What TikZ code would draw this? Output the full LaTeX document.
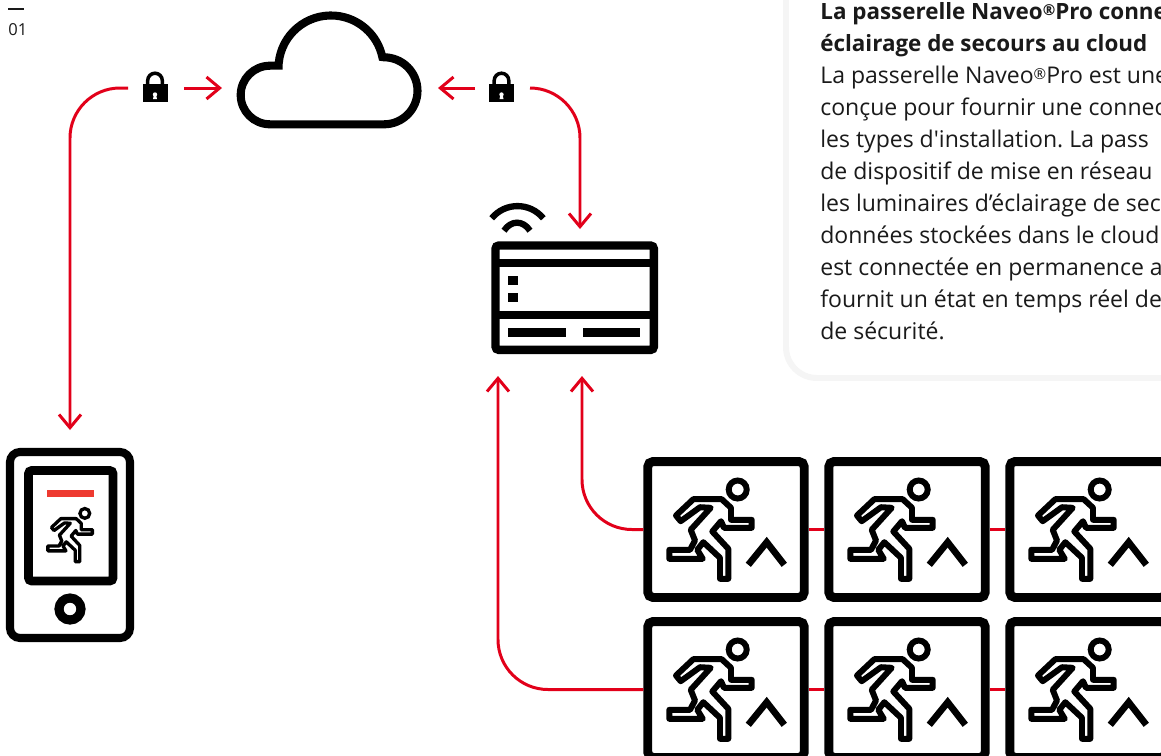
\documentclass[tikz,border=0pt]{standalone}
\usepackage{fontspec}
\setmainfont{Open Sans}
\newfontfamily\panelfont{Open Sans}
\usetikzlibrary{arrows.meta}
\definecolor{linkred}{HTML}{E2001A}
\definecolor{barred}{HTML}{EE3A30}
\definecolor{panelgrey}{HTML}{F5F5F5}
\definecolor{inkblack}{HTML}{1A1A1A}
\newcommand{\regmark}{\raisebox{0.32ex}{\fontsize{8.6pt}{9pt}\selectfont ®}}
\begin{document}
\begin{tikzpicture}[x=0.02cm,y=0.02cm,
	pics/runner/.style={code={
		\draw [black, line join=round] (-32.7,30.3) -- (-4.3,30.3) -- (5,21.7) -- (5,9.7) -- (25.7,9.7) -- (25.7,1.7) -- (-2,1.7) -- (-5,8.3) -- (-13.7,-2) -- (2.3,-19.3) -- (2.3,-49.3) -- (-6,-49.3) -- (-6,-28.3) -- (-22.7,-12.7) -- (-28.7,-20.3) -- (-23.3,-29.3) -- (-56.7,-29.3) -- (-56.7,-20.3) -- (-36,-20.3) -- (-31,-11) -- (-35.3,-0.3) -- (-15.3,21.7) -- (-26,22.3) -- (-45.3,8.3) -- (-50,14) -- cycle;
		\draw [black] (11.7,40) circle (9);
	}},
	pics/exitmark/.style={code={
		\pic [line width=3.4pt] {runner};
		\draw [black, line width=3.8pt] (22.3,-35.3) -- (40.7,-12.7) -- (58.3,-35.3);
	}},
	pics/padlock/.style={code={
		\draw [black, line width=2pt] (-7.3,8) -- (-7.3,12.5) arc (180:0:7.3) -- (7.3,8);
		\fill [black] (-12.5,9) rectangle (12.5,-9);
		\fill [white] (0,-1.5) circle (2.2);
		\fill [white] (-1,-1.5) -- (1,-1.5) -- (2,-6) -- (-2,-6) -- cycle;
	}}]
	\tikzstyle{every node}+=[inner sep=0pt]
	\tikzstyle{exitbox}=[draw=black, fill=white, line width=5.1pt, rounded corners=3pt, minimum width=3.13cm, minimum height=2.72cm]
	\tikzstyle{link}=[draw=linkred, line width=1.7pt]
	\tikzstyle{arrowlink}=[link, -{Straight Barb[length=7.5pt, width=12.5pt, line width=1.7pt]}]
	\tikzstyle{icon}=[draw=black, line width=4.6pt]
	\tikzstyle{bodytext}=[anchor=base west, font=\panelfont\frenchspacing\fontsize{13.1pt}{18pt}\selectfont, text=inkblack]
	\tikzstyle{headtext}=[bodytext, font=\panelfont\frenchspacing\fontsize{12.75pt}{18pt}\selectfont\bfseries]
	\useasboundingbox (0,0) rectangle (1161,-755);
	\clip (0,0) rectangle (1161,-755);
	\fill [white] (0,0) rectangle (1161,-755);

	\draw [inkblack, line width=0.6pt] (8,-9) -- (24,-9);
	\node [anchor=base west, font=\fontsize{9.4pt}{10pt}\selectfont, text=inkblack] (figno) at (8,-35) {01};

	\draw [panelgrey, line width=3.4pt, rounded corners=0.62cm] (1190,-378) -| (786,20);
	\node [headtext] (head1) at (820,-19.5) {La passerelle Naveo\regmark Pro conne};
	\node [headtext] (head2) at (820,-51.5) {éclairage de secours au cloud};
	\node [bodytext] (line1) at (820,-83.5) {La passerelle Naveo\regmark Pro est une};
	\node [bodytext] (line2) at (820,-115.5) {conçue pour fournir une connec};
	\node [bodytext] (line3) at (820,-147.5) {les types d'installation. La pass};
	\node [bodytext] (line4) at (820,-179.5) {de dispositif de mise en réseau};
	\node [bodytext] (line5) at (820,-211.5) {les luminaires d’éclairage de sec};
	\node [bodytext] (line6) at (820,-243.5) {données stockées dans le cloud};
	\node [bodytext] (line7) at (820,-275.5) {est connectée en permanence a};
	\node [bodytext] (line8) at (820,-307.5) {fournit un état en temps réel de};
	\node [bodytext] (line9) at (820,-339.5) {de sécurité.};

	\draw [icon] (270,-124.3) arc (270:90:29.3) -- (278.7,-65.7) -- (278.7,-63.4) arc (175:12:52.5) -- (384,-57.3) arc (90:-90:33.5) -- cycle;

	\pic at (155,-93) {padlock};
	\pic at (501.5,-93) {padlock};

	\draw [black, line width=3.6pt] (491.7,-218.3) .. controls (505,-202) and (530,-202) .. (543.3,-218.3);
	\draw [black, line width=3.6pt] (504,-230.7) .. controls (511,-220) and (523,-220) .. (530,-230.7);
	\node [draw=black, line width=4.8pt, rounded corners=2pt, minimum width=3.17cm, minimum height=2.09cm] (gateway) at (574.7,-297.7) {};
	\draw [icon] (495.5,-263) -- (654,-263);
	\draw [icon] (495.5,-315) -- (654,-315);
	\fill [black] (508,-276) rectangle (518,-285);
	\fill [black] (508,-293) rectangle (518,-302);
	\fill [black] (508,-328) rectangle (566,-337);
	\fill [black] (583,-328) rectangle (640,-337);

	\draw [black, line width=4.6pt, rounded corners=0.2cm] (10,-452) rectangle (130,-638);
	\draw [black, line width=5.1pt, rounded corners=2pt] (28.5,-470.5) rectangle (113,-581);
	\fill [barred] (47,-490) rectangle (94,-497);
	\pic [scale=0.54, line width=1.9pt] at (78.5,-535) {runner};
	\draw [black, line width=5.2pt] (70,-609) circle (11);

	\node [exitbox] (sa1) at (726,-529.5) {};
	\node [exitbox] (sa2) at (907,-529.5) {};
	\node [exitbox] (sa3) at (1088,-529.5) {};
	\node [exitbox] (sb1) at (726,-689.5) {};
	\node [exitbox] (sb2) at (907,-689.5) {};
	\node [exitbox] (sb3) at (1088,-689.5) {};
	\pic at (sa1) {exitmark};
	\pic at (sa2) {exitmark};
	\pic at (sa3) {exitmark};
	\pic at (sb1) {exitmark};
	\pic at (sb2) {exitmark};
	\pic at (sb3) {exitmark};

	\coordinate (lockleftout) at (128,-88);
	\coordinate (phonetop) at (70,-430);
	\coordinate (lockleftin) at (184,-88);
	\coordinate (cloudleft) at (222,-88);
	\coordinate (lockrightin) at (475,-88);
	\coordinate (cloudright) at (438,-88);
	\coordinate (lockrightout) at (530,-88);
	\coordinate (gatewaytop) at (580,-229);
	\coordinate (gatewaybottoma) at (582,-376);
	\coordinate (gatewaybottomb) at (498,-376);
	\draw [arrowlink, rounded corners=1cm] (lockleftout) -| (phonetop);
	\draw [arrowlink] (lockleftin) -- (cloudleft);
	\draw [arrowlink] (lockrightin) -- (cloudright);
	\draw [arrowlink, rounded corners=1cm] (lockrightout) -| (gatewaytop);
	\draw [arrowlink, rounded corners=1cm] (sa1.west) -| (gatewaybottoma);
	\draw [arrowlink, rounded corners=1cm] (sb1.west) -| (gatewaybottomb);
	\draw [link] (sa1) -- (sa2);
	\draw [link] (sa2) -- (sa3);
	\draw [link] (sb1) -- (sb2);
	\draw [link] (sb2) -- (sb3);
\end{tikzpicture}
\end{document}
